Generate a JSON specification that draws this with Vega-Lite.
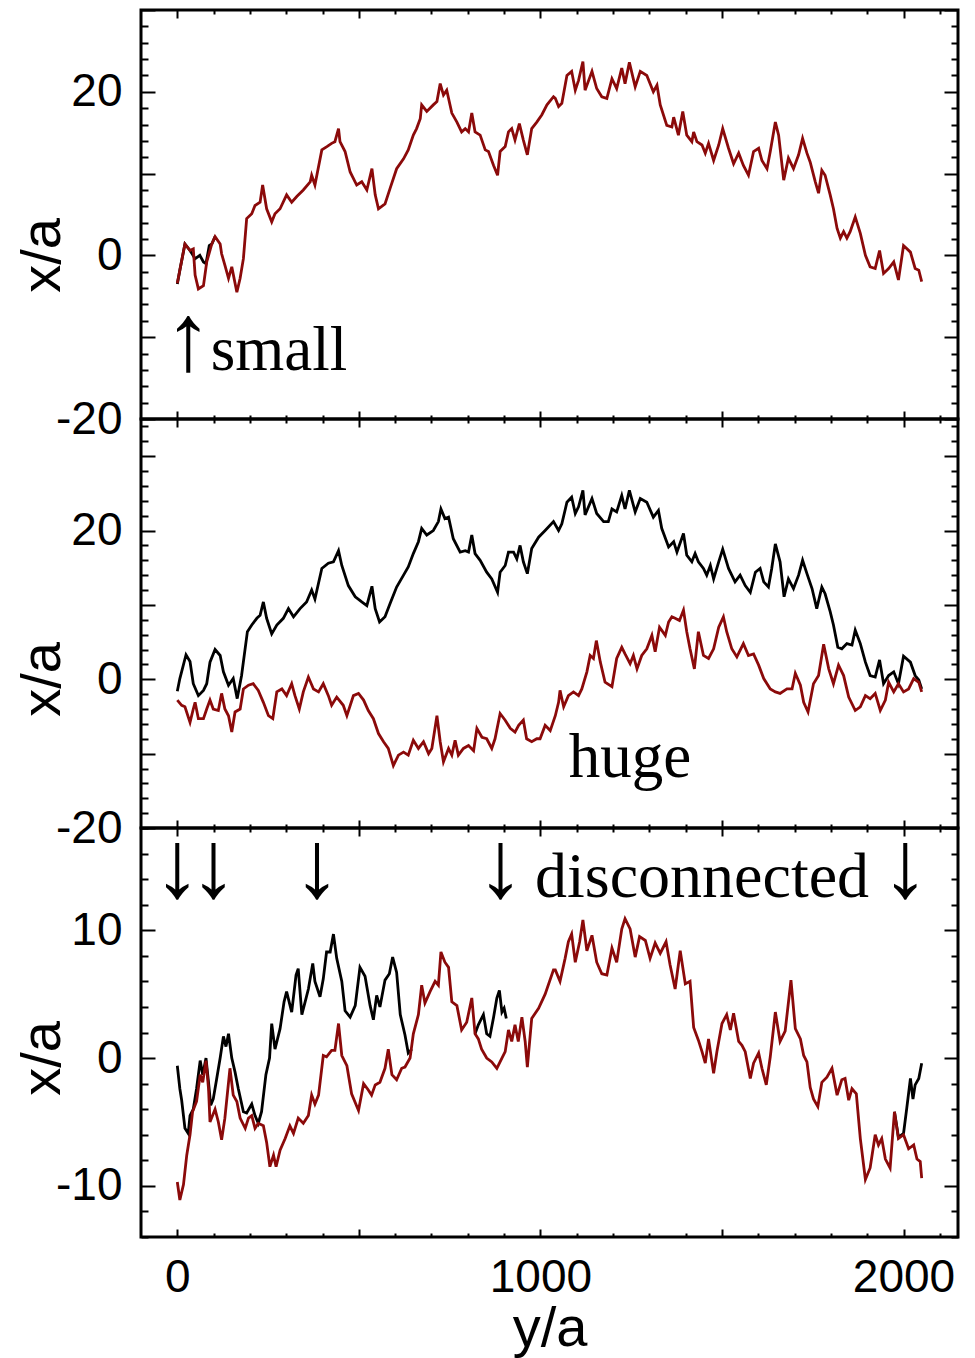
{
  "$schema": "https://vega.github.io/schema/vega-lite/v6.json",
  "background": "white",
  "padding": {"left": 12, "top": -15, "right": 0, "bottom": 0},
  "bounds": "flush",
  "spacing": 0,
  "config": {
    "view": {"stroke": "black", "strokeWidth": 3},
    "axis": {
      "domain": false, "grid": false, "tickColor": "black", "tickWidth": 2,
      "labelFont": "Liberation Sans", "labelFontSize": 46, "labelColor": "black",
      "titleFont": "Liberation Sans", "titleFontSize": 56, "titleFontWeight": "normal", "titleColor": "black",
      "labelFlush": false, "labelOverlap": false, "labelBound": false
    }
  },
  "datasets": {
    "topBlack": [{"x":0,"y":-3.5},{"x":7,"y":-1.8},{"x":21,"y":1.4},{"x":35,"y":0.6},{"x":49,"y":-0.4},{"x":62,"y":0.0},{"x":72,"y":-0.8},{"x":79,"y":-1.0},{"x":88,"y":1.2},{"x":95,"y":1.4},{"x":104,"y":2.3}],
    "topRed": [{"x":0,"y":-3.4},{"x":7,"y":-1.8},{"x":21,"y":1.4},{"x":35,"y":0.6},{"x":44,"y":0.8},{"x":49,"y":-2.4},{"x":58,"y":-4.1},{"x":72,"y":-3.7},{"x":81,"y":-0.8},{"x":95,"y":1.4},{"x":104,"y":2.3},{"x":118,"y":1.4},{"x":122,"y":0.2},{"x":131,"y":-1.2},{"x":141,"y":-2.8},{"x":150,"y":-1.4},{"x":164,"y":-4.5},{"x":173,"y":-2.8},{"x":182,"y":-0.4},{"x":191,"y":4.5},{"x":205,"y":5.1},{"x":214,"y":6.1},{"x":228,"y":6.5},{"x":235,"y":8.6},{"x":246,"y":5.7},{"x":260,"y":4.1},{"x":269,"y":5.1},{"x":283,"y":5.7},{"x":301,"y":7.4},{"x":315,"y":6.5},{"x":329,"y":7.2},{"x":347,"y":8.0},{"x":366,"y":9.0},{"x":370,"y":9.8},{"x":379,"y":8.6},{"x":398,"y":12.9},{"x":412,"y":13.3},{"x":425,"y":13.7},{"x":434,"y":13.9},{"x":444,"y":15.5},{"x":448,"y":13.9},{"x":462,"y":12.7},{"x":476,"y":10.2},{"x":494,"y":8.6},{"x":508,"y":9.0},{"x":522,"y":8.0},{"x":536,"y":10.6},{"x":545,"y":7.4},{"x":554,"y":5.7},{"x":572,"y":6.3},{"x":586,"y":8.2},{"x":604,"y":10.6},{"x":623,"y":11.8},{"x":636,"y":12.9},{"x":650,"y":14.7},{"x":659,"y":15.5},{"x":669,"y":16.7},{"x":673,"y":18.4},{"x":687,"y":17.6},{"x":705,"y":18.4},{"x":715,"y":18.8},{"x":724,"y":21.0},{"x":733,"y":19.6},{"x":742,"y":20.2},{"x":756,"y":17.4},{"x":770,"y":16.3},{"x":783,"y":15.1},{"x":793,"y":15.5},{"x":802,"y":15.1},{"x":811,"y":17.4},{"x":820,"y":15.1},{"x":834,"y":14.7},{"x":848,"y":12.9},{"x":857,"y":12.7},{"x":871,"y":11.0},{"x":882,"y":9.8},{"x":889,"y":12.7},{"x":903,"y":13.3},{"x":912,"y":15.1},{"x":921,"y":15.5},{"x":930,"y":14.1},{"x":942,"y":16.1},{"x":953,"y":14.1},{"x":964,"y":12.3},{"x":976,"y":15.5},{"x":990,"y":16.3},{"x":1004,"y":17.2},{"x":1018,"y":18.4},{"x":1036,"y":19.4},{"x":1041,"y":19.2},{"x":1050,"y":18.2},{"x":1059,"y":18.6},{"x":1073,"y":22.0},{"x":1086,"y":22.5},{"x":1096,"y":20.2},{"x":1105,"y":21.4},{"x":1117,"y":23.7},{"x":1123,"y":20.2},{"x":1142,"y":22.5},{"x":1155,"y":20.4},{"x":1169,"y":19.4},{"x":1183,"y":19.2},{"x":1197,"y":21.6},{"x":1210,"y":20.4},{"x":1224,"y":22.9},{"x":1233,"y":21.0},{"x":1245,"y":23.6},{"x":1261,"y":20.6},{"x":1275,"y":22.5},{"x":1293,"y":22.0},{"x":1311,"y":20.0},{"x":1321,"y":20.8},{"x":1330,"y":18.4},{"x":1348,"y":15.9},{"x":1362,"y":15.7},{"x":1367,"y":16.9},{"x":1380,"y":14.7},{"x":1392,"y":17.6},{"x":1403,"y":14.7},{"x":1417,"y":13.9},{"x":1422,"y":15.1},{"x":1431,"y":13.9},{"x":1445,"y":13.5},{"x":1454,"y":12.5},{"x":1463,"y":13.7},{"x":1477,"y":11.6},{"x":1491,"y":13.5},{"x":1502,"y":15.5},{"x":1518,"y":13.1},{"x":1532,"y":11.2},{"x":1546,"y":12.5},{"x":1559,"y":11.0},{"x":1573,"y":9.8},{"x":1587,"y":12.7},{"x":1601,"y":13.1},{"x":1610,"y":11.6},{"x":1624,"y":10.6},{"x":1633,"y":12.7},{"x":1647,"y":16.3},{"x":1656,"y":14.7},{"x":1670,"y":9.2},{"x":1683,"y":11.9},{"x":1697,"y":10.6},{"x":1711,"y":12.3},{"x":1722,"y":14.3},{"x":1734,"y":12.5},{"x":1743,"y":11.4},{"x":1757,"y":9.0},{"x":1766,"y":7.6},{"x":1775,"y":10.4},{"x":1784,"y":9.8},{"x":1798,"y":7.4},{"x":1807,"y":5.7},{"x":1817,"y":3.3},{"x":1826,"y":2.1},{"x":1835,"y":2.9},{"x":1844,"y":2.1},{"x":1853,"y":2.9},{"x":1867,"y":4.7},{"x":1881,"y":2.7},{"x":1895,"y":0.0},{"x":1908,"y":-1.4},{"x":1922,"y":-1.6},{"x":1934,"y":0.6},{"x":1945,"y":-2.2},{"x":1959,"y":-1.6},{"x":1973,"y":-0.8},{"x":1986,"y":-3.0},{"x":2000,"y":1.2},{"x":2019,"y":0.4},{"x":2032,"y":-1.6},{"x":2042,"y":-1.8},{"x":2050,"y":-3.2}],
    "midBlack": [{"x":0,"y":-1.6},{"x":7,"y":0.1},{"x":24,"y":3.3},{"x":35,"y":2.4},{"x":44,"y":-0.6},{"x":58,"y":-2.2},{"x":72,"y":-1.5},{"x":81,"y":-0.6},{"x":90,"y":2.3},{"x":104,"y":4.0},{"x":118,"y":3.2},{"x":127,"y":1.0},{"x":141,"y":-0.8},{"x":154,"y":0.1},{"x":165,"y":-2.6},{"x":177,"y":0.5},{"x":193,"y":6.4},{"x":205,"y":7.3},{"x":219,"y":8.2},{"x":228,"y":8.6},{"x":237,"y":10.4},{"x":246,"y":8.2},{"x":260,"y":6.1},{"x":274,"y":7.3},{"x":292,"y":8.2},{"x":306,"y":9.5},{"x":320,"y":8.4},{"x":338,"y":9.5},{"x":356,"y":10.4},{"x":370,"y":12.0},{"x":379,"y":10.8},{"x":398,"y":14.9},{"x":416,"y":15.6},{"x":430,"y":15.8},{"x":444,"y":17.3},{"x":453,"y":15.3},{"x":471,"y":12.6},{"x":490,"y":11.1},{"x":508,"y":10.4},{"x":522,"y":9.9},{"x":536,"y":12.5},{"x":545,"y":9.5},{"x":557,"y":7.7},{"x":572,"y":8.4},{"x":586,"y":10.2},{"x":604,"y":12.4},{"x":623,"y":14.0},{"x":636,"y":15.1},{"x":650,"y":16.9},{"x":664,"y":18.5},{"x":673,"y":20.3},{"x":687,"y":19.4},{"x":705,"y":20.0},{"x":719,"y":21.2},{"x":726,"y":22.9},{"x":737,"y":21.6},{"x":747,"y":21.8},{"x":760,"y":18.9},{"x":779,"y":17.1},{"x":793,"y":17.3},{"x":802,"y":17.1},{"x":811,"y":19.4},{"x":820,"y":16.9},{"x":834,"y":16.0},{"x":852,"y":14.4},{"x":866,"y":13.5},{"x":882,"y":11.7},{"x":889,"y":14.4},{"x":903,"y":15.3},{"x":912,"y":17.1},{"x":926,"y":17.1},{"x":935,"y":16.2},{"x":944,"y":18.0},{"x":953,"y":15.8},{"x":964,"y":14.2},{"x":976,"y":17.6},{"x":995,"y":19.1},{"x":1013,"y":20.0},{"x":1036,"y":21.2},{"x":1050,"y":20.0},{"x":1059,"y":20.9},{"x":1073,"y":23.8},{"x":1086,"y":24.5},{"x":1096,"y":22.3},{"x":1105,"y":23.2},{"x":1117,"y":25.4},{"x":1123,"y":22.1},{"x":1142,"y":24.3},{"x":1155,"y":22.3},{"x":1174,"y":21.2},{"x":1187,"y":21.2},{"x":1197,"y":22.9},{"x":1210,"y":22.5},{"x":1224,"y":24.7},{"x":1233,"y":22.9},{"x":1245,"y":25.4},{"x":1261,"y":22.5},{"x":1275,"y":24.3},{"x":1293,"y":23.8},{"x":1311,"y":21.8},{"x":1325,"y":22.7},{"x":1334,"y":20.3},{"x":1353,"y":17.8},{"x":1367,"y":18.5},{"x":1376,"y":17.1},{"x":1394,"y":19.6},{"x":1403,"y":16.7},{"x":1417,"y":15.8},{"x":1426,"y":16.9},{"x":1435,"y":15.8},{"x":1449,"y":14.9},{"x":1458,"y":14.0},{"x":1468,"y":15.3},{"x":1477,"y":13.5},{"x":1491,"y":15.8},{"x":1502,"y":17.5},{"x":1518,"y":14.9},{"x":1536,"y":13.1},{"x":1550,"y":14.0},{"x":1564,"y":12.6},{"x":1578,"y":11.7},{"x":1592,"y":14.4},{"x":1605,"y":14.9},{"x":1615,"y":13.1},{"x":1628,"y":12.4},{"x":1637,"y":14.9},{"x":1647,"y":18.2},{"x":1660,"y":15.8},{"x":1671,"y":11.1},{"x":1683,"y":13.5},{"x":1697,"y":12.2},{"x":1711,"y":14.0},{"x":1722,"y":16.0},{"x":1734,"y":14.2},{"x":1748,"y":12.2},{"x":1761,"y":9.5},{"x":1775,"y":12.4},{"x":1784,"y":11.5},{"x":1798,"y":9.1},{"x":1807,"y":7.3},{"x":1819,"y":4.3},{"x":1830,"y":4.1},{"x":1844,"y":4.8},{"x":1858,"y":4.6},{"x":1867,"y":6.6},{"x":1881,"y":4.8},{"x":1895,"y":2.3},{"x":1908,"y":0.5},{"x":1922,"y":0.3},{"x":1934,"y":2.6},{"x":1945,"y":-0.6},{"x":1959,"y":0.5},{"x":1973,"y":1.0},{"x":1986,"y":-0.6},{"x":2000,"y":3.1},{"x":2019,"y":2.3},{"x":2032,"y":0.5},{"x":2042,"y":-0.1},{"x":2050,"y":-1.3}],
    "midRed": [{"x":0,"y":-2.8},{"x":12,"y":-3.5},{"x":21,"y":-3.7},{"x":35,"y":-5.8},{"x":44,"y":-4.0},{"x":49,"y":-3.1},{"x":58,"y":-5.3},{"x":72,"y":-5.3},{"x":81,"y":-4.0},{"x":90,"y":-2.8},{"x":99,"y":-4.0},{"x":113,"y":-4.2},{"x":122,"y":-1.9},{"x":131,"y":-4.0},{"x":141,"y":-4.9},{"x":150,"y":-7.1},{"x":159,"y":-4.4},{"x":173,"y":-4.0},{"x":182,"y":-1.3},{"x":196,"y":-0.8},{"x":209,"y":-0.6},{"x":223,"y":-1.5},{"x":237,"y":-3.1},{"x":251,"y":-4.9},{"x":263,"y":-5.3},{"x":274,"y":-1.7},{"x":288,"y":-1.3},{"x":301,"y":-2.2},{"x":315,"y":-0.6},{"x":324,"y":-2.2},{"x":336,"y":-4.0},{"x":347,"y":-1.7},{"x":361,"y":0.3},{"x":375,"y":-1.3},{"x":389,"y":-1.7},{"x":402,"y":-0.6},{"x":416,"y":-2.2},{"x":425,"y":-3.5},{"x":439,"y":-2.4},{"x":457,"y":-3.5},{"x":467,"y":-4.9},{"x":485,"y":-2.2},{"x":499,"y":-1.9},{"x":513,"y":-2.8},{"x":526,"y":-4.2},{"x":540,"y":-5.3},{"x":554,"y":-7.3},{"x":568,"y":-8.4},{"x":581,"y":-9.3},{"x":595,"y":-11.6},{"x":609,"y":-10.2},{"x":623,"y":-9.8},{"x":636,"y":-10.2},{"x":650,"y":-8.2},{"x":664,"y":-9.3},{"x":678,"y":-8.4},{"x":692,"y":-10.0},{"x":701,"y":-9.3},{"x":715,"y":-4.9},{"x":724,"y":-8.4},{"x":733,"y":-11.1},{"x":747,"y":-9.3},{"x":756,"y":-10.2},{"x":765,"y":-8.2},{"x":774,"y":-10.2},{"x":788,"y":-9.3},{"x":802,"y":-8.9},{"x":816,"y":-9.6},{"x":825,"y":-6.6},{"x":839,"y":-7.8},{"x":852,"y":-8.0},{"x":866,"y":-9.3},{"x":875,"y":-8.0},{"x":889,"y":-4.6},{"x":903,"y":-5.5},{"x":917,"y":-6.6},{"x":930,"y":-7.1},{"x":940,"y":-6.2},{"x":953,"y":-5.5},{"x":962,"y":-8.0},{"x":976,"y":-8.4},{"x":990,"y":-8.0},{"x":999,"y":-8.0},{"x":1013,"y":-6.2},{"x":1027,"y":-6.9},{"x":1041,"y":-4.9},{"x":1050,"y":-3.1},{"x":1054,"y":-1.5},{"x":1064,"y":-3.7},{"x":1077,"y":-2.2},{"x":1091,"y":-1.7},{"x":1105,"y":-2.2},{"x":1114,"y":-1.3},{"x":1128,"y":1.0},{"x":1137,"y":3.2},{"x":1146,"y":2.8},{"x":1154,"y":5.2},{"x":1165,"y":2.3},{"x":1178,"y":-0.4},{"x":1197,"y":-1.0},{"x":1210,"y":2.8},{"x":1224,"y":4.3},{"x":1233,"y":3.4},{"x":1247,"y":2.1},{"x":1256,"y":3.2},{"x":1266,"y":1.4},{"x":1279,"y":3.2},{"x":1293,"y":4.1},{"x":1307,"y":5.9},{"x":1316,"y":3.7},{"x":1328,"y":7.0},{"x":1344,"y":5.9},{"x":1353,"y":7.7},{"x":1362,"y":8.4},{"x":1371,"y":8.2},{"x":1383,"y":7.9},{"x":1394,"y":9.3},{"x":1403,"y":6.4},{"x":1412,"y":4.1},{"x":1424,"y":1.4},{"x":1435,"y":6.4},{"x":1449,"y":3.2},{"x":1463,"y":2.8},{"x":1477,"y":4.1},{"x":1491,"y":7.0},{"x":1504,"y":8.4},{"x":1513,"y":6.4},{"x":1527,"y":4.1},{"x":1541,"y":3.0},{"x":1559,"y":4.8},{"x":1573,"y":3.2},{"x":1587,"y":3.4},{"x":1601,"y":1.9},{"x":1615,"y":0.1},{"x":1633,"y":-1.3},{"x":1647,"y":-1.7},{"x":1660,"y":-1.9},{"x":1679,"y":-1.3},{"x":1693,"y":-1.3},{"x":1702,"y":0.8},{"x":1716,"y":-0.8},{"x":1725,"y":-3.1},{"x":1737,"y":-4.4},{"x":1752,"y":-0.6},{"x":1766,"y":0.5},{"x":1780,"y":4.7},{"x":1794,"y":1.4},{"x":1807,"y":-0.6},{"x":1821,"y":1.9},{"x":1835,"y":0.5},{"x":1849,"y":-2.4},{"x":1867,"y":-4.2},{"x":1881,"y":-3.7},{"x":1895,"y":-2.2},{"x":1908,"y":-2.6},{"x":1922,"y":-1.9},{"x":1936,"y":-4.2},{"x":1950,"y":-2.8},{"x":1959,"y":-0.4},{"x":1973,"y":-1.7},{"x":1986,"y":-0.6},{"x":2000,"y":-1.7},{"x":2014,"y":-1.3},{"x":2028,"y":0.1},{"x":2042,"y":-0.4},{"x":2050,"y":-1.7}],
    "botBlack": [{"g":1,"x":0,"y":-0.6},{"g":1,"x":7,"y":-2.4},{"g":1,"x":12,"y":-3.3},{"g":1,"x":21,"y":-5.5},{"g":1,"x":30,"y":-5.9},{"g":1,"x":35,"y":-4.5},{"g":1,"x":44,"y":-4.0},{"g":1,"x":53,"y":-2.4},{"g":1,"x":63,"y":-0.2},{"g":1,"x":70,"y":-1.3},{"g":1,"x":79,"y":0.0},{"g":1,"x":86,"y":-1.9},{"g":1,"x":92,"y":-3.7},{"g":1,"x":99,"y":-3.2},{"g":1,"x":108,"y":-1.7},{"g":1,"x":118,"y":0.0},{"g":1,"x":127,"y":1.7},{"g":1,"x":134,"y":0.9},{"g":1,"x":141,"y":1.9},{"g":1,"x":150,"y":0.0},{"g":1,"x":159,"y":-1.1},{"g":1,"x":168,"y":-2.4},{"g":1,"x":182,"y":-4.2},{"g":1,"x":191,"y":-4.3},{"g":1,"x":205,"y":-3.6},{"g":1,"x":214,"y":-4.5},{"g":1,"x":223,"y":-5.1},{"g":1,"x":232,"y":-4.2},{"g":1,"x":244,"y":-1.3},{"g":1,"x":254,"y":0.0},{"g":1,"x":260,"y":2.7},{"g":1,"x":269,"y":0.7},{"g":1,"x":283,"y":2.3},{"g":1,"x":294,"y":4.4},{"g":1,"x":301,"y":5.2},{"g":1,"x":315,"y":3.6},{"g":1,"x":327,"y":6.5},{"g":1,"x":333,"y":7.0},{"g":1,"x":343,"y":3.4},{"g":1,"x":352,"y":4.4},{"g":1,"x":361,"y":5.4},{"g":1,"x":373,"y":7.4},{"g":1,"x":379,"y":6.0},{"g":1,"x":393,"y":4.8},{"g":1,"x":402,"y":6.2},{"g":1,"x":411,"y":8.3},{"g":1,"x":421,"y":8.3},{"g":1,"x":430,"y":9.7},{"g":1,"x":439,"y":7.8},{"g":1,"x":453,"y":6.0},{"g":1,"x":462,"y":3.7},{"g":1,"x":476,"y":3.2},{"g":1,"x":490,"y":4.1},{"g":1,"x":503,"y":7.1},{"g":1,"x":517,"y":6.4},{"g":1,"x":531,"y":4.1},{"g":1,"x":540,"y":3.0},{"g":1,"x":549,"y":4.9},{"g":1,"x":558,"y":4.0},{"g":1,"x":572,"y":6.1},{"g":1,"x":584,"y":6.6},{"g":1,"x":593,"y":7.9},{"g":1,"x":604,"y":6.7},{"g":1,"x":614,"y":3.4},{"g":1,"x":627,"y":1.8},{"g":1,"x":636,"y":0.4},{"g":1,"x":646,"y":0.7},{"g":2,"x":820,"y":1.9},{"g":2,"x":829,"y":2.6},{"g":2,"x":843,"y":3.4},{"g":2,"x":852,"y":1.9},{"g":2,"x":861,"y":1.7},{"g":2,"x":871,"y":3.2},{"g":2,"x":880,"y":4.7},{"g":2,"x":887,"y":5.3},{"g":2,"x":894,"y":3.6},{"g":2,"x":900,"y":3.9},{"g":2,"x":906,"y":3.1},{"g":3,"x":1975,"y":-4.2},{"g":3,"x":1986,"y":-6.2},{"g":3,"x":2000,"y":-5.9},{"g":3,"x":2009,"y":-3.9},{"g":3,"x":2019,"y":-1.6},{"g":3,"x":2026,"y":-3.2},{"g":3,"x":2032,"y":-2.1},{"g":3,"x":2042,"y":-1.6},{"g":3,"x":2050,"y":-0.4}],
    "botRed": [{"x":0,"y":-9.7},{"x":7,"y":-11.1},{"x":17,"y":-9.9},{"x":26,"y":-7.6},{"x":35,"y":-6.0},{"x":42,"y":-4.2},{"x":53,"y":-3.4},{"x":63,"y":-1.3},{"x":70,"y":-1.9},{"x":79,"y":-0.2},{"x":86,"y":-2.4},{"x":90,"y":-5.0},{"x":104,"y":-4.0},{"x":113,"y":-5.0},{"x":122,"y":-6.4},{"x":131,"y":-4.7},{"x":145,"y":-0.8},{"x":154,"y":-2.9},{"x":164,"y":-3.4},{"x":173,"y":-4.7},{"x":187,"y":-5.5},{"x":196,"y":-4.7},{"x":205,"y":-4.5},{"x":214,"y":-5.5},{"x":223,"y":-5.1},{"x":237,"y":-5.3},{"x":246,"y":-6.6},{"x":255,"y":-8.5},{"x":265,"y":-7.6},{"x":272,"y":-8.5},{"x":283,"y":-7.2},{"x":297,"y":-6.3},{"x":310,"y":-5.3},{"x":320,"y":-5.9},{"x":333,"y":-4.7},{"x":347,"y":-5.1},{"x":361,"y":-4.5},{"x":370,"y":-2.9},{"x":379,"y":-3.6},{"x":389,"y":-2.9},{"x":402,"y":0.2},{"x":411,"y":0.1},{"x":425,"y":0.6},{"x":434,"y":0.6},{"x":444,"y":2.7},{"x":453,"y":0.2},{"x":467,"y":-0.6},{"x":480,"y":-2.8},{"x":499,"y":-4.1},{"x":513,"y":-2.0},{"x":526,"y":-2.5},{"x":535,"y":-2.9},{"x":545,"y":-2.1},{"x":558,"y":-1.9},{"x":572,"y":-0.8},{"x":581,"y":0.7},{"x":591,"y":-1.3},{"x":604,"y":-1.7},{"x":618,"y":-0.8},{"x":627,"y":-0.7},{"x":641,"y":0.0},{"x":650,"y":1.9},{"x":664,"y":3.4},{"x":673,"y":5.7},{"x":682,"y":4.3},{"x":696,"y":5.2},{"x":710,"y":6.0},{"x":719,"y":5.7},{"x":726,"y":8.3},{"x":737,"y":7.5},{"x":747,"y":7.1},{"x":756,"y":4.4},{"x":770,"y":4.1},{"x":783,"y":2.2},{"x":797,"y":2.8},{"x":811,"y":4.7},{"x":820,"y":1.9},{"x":829,"y":1.5},{"x":838,"y":0.7},{"x":852,"y":0.0},{"x":866,"y":-0.3},{"x":880,"y":-0.8},{"x":894,"y":0.0},{"x":903,"y":0.5},{"x":912,"y":2.2},{"x":921,"y":1.3},{"x":930,"y":2.6},{"x":939,"y":1.3},{"x":949,"y":3.2},{"x":958,"y":1.3},{"x":964,"y":-0.7},{"x":976,"y":3.1},{"x":995,"y":3.9},{"x":1013,"y":5.0},{"x":1036,"y":6.9},{"x":1041,"y":6.9},{"x":1054,"y":6.0},{"x":1068,"y":7.8},{"x":1077,"y":9.1},{"x":1086,"y":9.7},{"x":1096,"y":7.5},{"x":1108,"y":9.1},{"x":1117,"y":10.8},{"x":1128,"y":8.4},{"x":1142,"y":9.6},{"x":1155,"y":7.5},{"x":1169,"y":6.6},{"x":1183,"y":6.5},{"x":1197,"y":8.6},{"x":1210,"y":7.5},{"x":1224,"y":10.1},{"x":1233,"y":10.9},{"x":1247,"y":10.1},{"x":1261,"y":7.9},{"x":1273,"y":9.5},{"x":1289,"y":9.2},{"x":1302,"y":7.8},{"x":1316,"y":9.0},{"x":1330,"y":8.2},{"x":1346,"y":9.1},{"x":1357,"y":7.3},{"x":1371,"y":5.4},{"x":1385,"y":8.4},{"x":1399,"y":5.8},{"x":1412,"y":6.0},{"x":1422,"y":2.4},{"x":1435,"y":1.4},{"x":1445,"y":0.5},{"x":1454,"y":-0.4},{"x":1463,"y":1.5},{"x":1477,"y":-1.2},{"x":1486,"y":0.5},{"x":1500,"y":2.7},{"x":1513,"y":3.4},{"x":1523,"y":2.2},{"x":1532,"y":3.5},{"x":1546,"y":1.3},{"x":1555,"y":1.0},{"x":1564,"y":0.5},{"x":1578,"y":-1.6},{"x":1587,"y":-0.4},{"x":1601,"y":0.4},{"x":1610,"y":-0.8},{"x":1622,"y":-2.1},{"x":1633,"y":0.1},{"x":1647,"y":3.6},{"x":1660,"y":1.3},{"x":1674,"y":2.1},{"x":1690,"y":6.1},{"x":1702,"y":2.3},{"x":1716,"y":1.5},{"x":1725,"y":0.2},{"x":1734,"y":-0.3},{"x":1743,"y":-2.3},{"x":1752,"y":-3.2},{"x":1764,"y":-3.8},{"x":1775,"y":-1.9},{"x":1789,"y":-1.5},{"x":1803,"y":-0.8},{"x":1817,"y":-2.9},{"x":1830,"y":-1.7},{"x":1839,"y":-1.6},{"x":1849,"y":-3.3},{"x":1858,"y":-2.4},{"x":1870,"y":-2.8},{"x":1881,"y":-6.3},{"x":1895,"y":-9.5},{"x":1908,"y":-8.6},{"x":1922,"y":-6.0},{"x":1931,"y":-6.8},{"x":1940,"y":-6.3},{"x":1950,"y":-7.9},{"x":1963,"y":-8.6},{"x":1975,"y":-4.2},{"x":1986,"y":-6.3},{"x":2000,"y":-6.0},{"x":2014,"y":-7.1},{"x":2028,"y":-6.8},{"x":2037,"y":-7.9},{"x":2046,"y":-8.1},{"x":2050,"y":-9.4}],
    "topWords": [{"x":92,"y":-14.0,"t":"small"}],
    "topArrows": [{"x":30,"y":-14.0,"t":"↑"}],
    "midNotes": [{"x":1078,"y":-13.1,"t":"huge"}],
    "botWords": [{"x":985,"y":12.6,"t":"disconnected"}],
    "botArrows": [{"x":0,"y":12.6,"t":"↓"},{"x":100,"y":12.6,"t":"↓"},{"x":385,"y":12.6,"t":"↓"},{"x":890,"y":12.6,"t":"↓"},{"x":2005,"y":12.6,"t":"↓"}]
  },
  "vconcat": [
    {
      "width": 817, "height": 409,
      "resolve": {"axis": {"x": "independent", "y": "independent"}},
      "layer": [
        {
          "data": {"name": "topBlack"},
          "mark": {"type": "line", "color": "black", "strokeWidth": 2.8},
          "encoding": {
            "x": {"field": "x", "type": "quantitative", "scale": {"domain": [-100, 2150], "nice": false, "zero": false},
                  "axis": {"orient": "bottom", "values": [0,100,200,300,400,500,600,700,800,900,1000,1100,1200,1300,1400,1500,1600,1700,1800,1900,2000,2100],
                           "tickSize": {"condition": {"test": "datum.value % 500 === 0", "value": -8}, "value": -4}, "labels": false, "title": null}},
            "y": {"field": "y", "type": "quantitative", "scale": {"domain": [-20, 30], "nice": false, "zero": false},
                  "axis": {"orient": "left", "values": [-20,-18,-16,-14,-12,-10,-8,-6,-4,-2,0,2,4,6,8,10,12,14,16,18,20,22,24,26,28,30],
                           "tickSize": {"condition": {"test": "datum.value % 10 === 0", "value": -14}, "value": -7},
                           "labelExpr": "datum.value % 20 === 0 ? '' + datum.value : ''", "labelPadding": 33,
                           "title": "x/a", "titleX": -82, "titleY": 245, "titleAlign": "center", "titleBaseline": "alphabetic", "titleAngle": -90}}
          }
        },
        {
          "data": {"name": "topRed"},
          "mark": {"type": "line", "color": "#8b0a0a", "strokeWidth": 2.8},
          "encoding": {
            "x": {"field": "x", "type": "quantitative",
                  "axis": {"orient": "top", "values": [0,100,200,300,400,500,600,700,800,900,1000,1100,1200,1300,1400,1500,1600,1700,1800,1900,2000,2100],
                           "tickSize": {"condition": {"test": "datum.value % 500 === 0", "value": -8}, "value": -4}, "labels": false, "title": null}},
            "y": {"field": "y", "type": "quantitative",
                  "axis": {"orient": "right", "values": [-20,-18,-16,-14,-12,-10,-8,-6,-4,-2,0,2,4,6,8,10,12,14,16,18,20,22,24,26,28,30],
                           "tickSize": {"condition": {"test": "datum.value % 10 === 0", "value": -14}, "value": -7}, "labels": false, "title": null}}
          }
        },
        {
          "data": {"name": "topWords"},
          "mark": {"type": "text", "font": "Liberation Serif", "fontSize": 63, "align": "left", "baseline": "alphabetic", "color": "black"},
          "encoding": {
            "x": {"field": "x", "type": "quantitative", "axis": null},
            "y": {"field": "y", "type": "quantitative", "axis": null},
            "text": {"field": "t"}
          }
        },
        {
          "data": {"name": "topArrows"},
          "mark": {"type": "text", "font": "Liberation Serif", "fontSize": 96, "align": "center", "baseline": "alphabetic", "color": "black"},
          "encoding": {
            "x": {"field": "x", "type": "quantitative", "axis": null},
            "y": {"field": "y", "type": "quantitative", "axis": null},
            "text": {"field": "t"}
          }
        }
      ]
    },
    {
      "width": 817, "height": 409,
      "resolve": {"axis": {"x": "independent", "y": "independent"}},
      "layer": [
        {
          "data": {"name": "midBlack"},
          "mark": {"type": "line", "color": "black", "strokeWidth": 2.8},
          "encoding": {
            "x": {"field": "x", "type": "quantitative", "scale": {"domain": [-100, 2150], "nice": false, "zero": false},
                  "axis": {"orient": "bottom", "values": [0,100,200,300,400,500,600,700,800,900,1000,1100,1200,1300,1400,1500,1600,1700,1800,1900,2000,2100],
                           "tickSize": {"condition": {"test": "datum.value % 500 === 0", "value": -8}, "value": -4}, "labels": false, "title": null}},
            "y": {"field": "y", "type": "quantitative", "scale": {"domain": [-20, 35], "nice": false, "zero": false},
                  "axis": {"orient": "left", "values": [-20,-18,-16,-14,-12,-10,-8,-6,-4,-2,0,2,4,6,8,10,12,14,16,18,20,22,24,26,28,30,32,34],
                           "tickSize": {"condition": {"test": "datum.value % 10 === 0", "value": -14}, "value": -7},
                           "labelExpr": "datum.value % 20 === 0 ? '' + datum.value : ''", "labelPadding": 33,
                           "title": "x/a", "titleX": -82, "titleY": 260, "titleAlign": "center", "titleBaseline": "alphabetic", "titleAngle": -90}}
          }
        },
        {
          "data": {"name": "midRed"},
          "mark": {"type": "line", "color": "#8b0a0a", "strokeWidth": 2.8},
          "encoding": {
            "x": {"field": "x", "type": "quantitative",
                  "axis": {"orient": "top", "values": [0,100,200,300,400,500,600,700,800,900,1000,1100,1200,1300,1400,1500,1600,1700,1800,1900,2000,2100],
                           "tickSize": {"condition": {"test": "datum.value % 500 === 0", "value": -8}, "value": -4}, "labels": false, "title": null}},
            "y": {"field": "y", "type": "quantitative",
                  "axis": {"orient": "right", "values": [-20,-18,-16,-14,-12,-10,-8,-6,-4,-2,0,2,4,6,8,10,12,14,16,18,20,22,24,26,28,30,32,34],
                           "tickSize": {"condition": {"test": "datum.value % 10 === 0", "value": -14}, "value": -7}, "labels": false, "title": null}}
          }
        },
        {
          "data": {"name": "midNotes"},
          "mark": {"type": "text", "font": "Liberation Serif", "fontSize": 63, "align": "left", "baseline": "alphabetic", "color": "black"},
          "encoding": {
            "x": {"field": "x", "type": "quantitative", "axis": null},
            "y": {"field": "y", "type": "quantitative", "axis": null},
            "text": {"field": "t"}
          }
        }
      ]
    },
    {
      "width": 817, "height": 409,
      "resolve": {"axis": {"x": "independent", "y": "independent"}},
      "layer": [
        {
          "data": {"name": "botBlack"},
          "mark": {"type": "line", "color": "black", "strokeWidth": 2.8},
          "encoding": {
            "x": {"field": "x", "type": "quantitative", "scale": {"domain": [-100, 2150], "nice": false, "zero": false},
                  "axis": {"orient": "bottom", "values": [0,100,200,300,400,500,600,700,800,900,1000,1100,1200,1300,1400,1500,1600,1700,1800,1900,2000,2100],
                           "tickSize": {"condition": {"test": "datum.value % 500 === 0", "value": -8}, "value": -4},
                           "labelExpr": "datum.value % 1000 === 0 ? '' + datum.value : ''", "labelPadding": 26,
                           "title": "y/a", "titleFontSize": 56, "titlePadding": -3}},
            "y": {"field": "y", "type": "quantitative", "scale": {"domain": [-14, 18], "nice": false, "zero": false},
                  "axis": {"orient": "left", "values": [-14,-12,-10,-8,-6,-4,-2,0,2,4,6,8,10,12,14,16,18],
                           "tickSize": {"condition": {"test": "datum.value % 10 === 0", "value": -14}, "value": -7},
                           "labelExpr": "datum.value % 10 === 0 ? '' + datum.value : ''", "labelPadding": 33,
                           "title": "x/a", "titleX": -82, "titleY": 230, "titleAlign": "center", "titleBaseline": "alphabetic", "titleAngle": -90}},
            "detail": {"field": "g"}
          }
        },
        {
          "data": {"name": "botRed"},
          "mark": {"type": "line", "color": "#8b0a0a", "strokeWidth": 2.8},
          "encoding": {
            "x": {"field": "x", "type": "quantitative",
                  "axis": {"orient": "top", "values": [0,100,200,300,400,500,600,700,800,900,1000,1100,1200,1300,1400,1500,1600,1700,1800,1900,2000,2100],
                           "tickSize": {"condition": {"test": "datum.value % 500 === 0", "value": -8}, "value": -4}, "labels": false, "title": null}},
            "y": {"field": "y", "type": "quantitative",
                  "axis": {"orient": "right", "values": [-14,-12,-10,-8,-6,-4,-2,0,2,4,6,8,10,12,14,16,18],
                           "tickSize": {"condition": {"test": "datum.value % 10 === 0", "value": -14}, "value": -7}, "labels": false, "title": null}}
          }
        },
        {
          "data": {"name": "botWords"},
          "mark": {"type": "text", "font": "Liberation Serif", "fontSize": 64, "align": "left", "baseline": "alphabetic", "color": "black"},
          "encoding": {
            "x": {"field": "x", "type": "quantitative", "axis": null},
            "y": {"field": "y", "type": "quantitative", "axis": null},
            "text": {"field": "t"}
          }
        },
        {
          "data": {"name": "botArrows"},
          "mark": {"type": "text", "font": "Liberation Serif", "fontSize": 96, "align": "center", "baseline": "alphabetic", "color": "black"},
          "encoding": {
            "x": {"field": "x", "type": "quantitative", "axis": null},
            "y": {"field": "y", "type": "quantitative", "axis": null},
            "text": {"field": "t"}
          }
        }
      ]
    }
  ]
}
